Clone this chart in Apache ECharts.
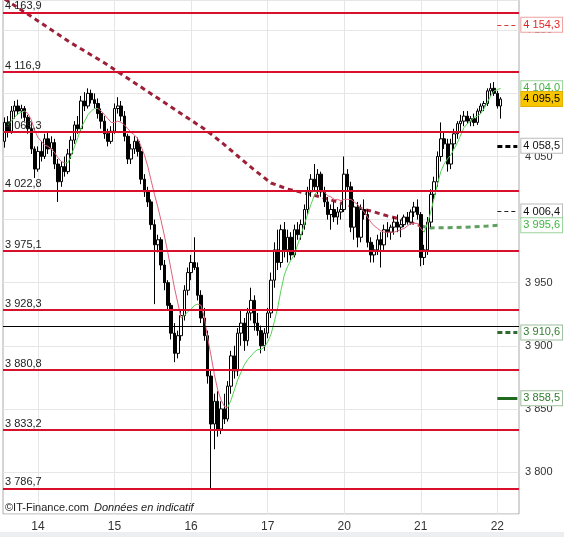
<!DOCTYPE html>
<html><head><meta charset="utf-8">
<script src="https://cdn.jsdelivr.net/npm/echarts@6/dist/echarts.min.js"></script>
<style>html,body{margin:0;padding:0;background:#fff}#c{width:564px;height:537px}</style>
</head><body><div id="c"></div>
<script>
// ---- data ----
const dayLabels = ['13','14','15','16','17','20','21','22'];
const candlesPerDay = [10,23,23,23,23,23,23,2];
const emptySlots = 5;

const opens = [4062,4077,4070,4086,4090,4086,4088,4081,4072,4056,
4040,4054,4050,4064,4056,4061,4044,4030,4042,4038,4052,4063,4075,4072,4094,4090,4100,4095,4092,4084,4078,4068,4062,
4070,4088,4090,4082,4066,4048,4056,4062,4054,4032,4022,4014,3996,3980,3984,3964,3950,3932,3910,3894,3908,3924,3944,
3958,3966,3962,3940,3922,3908,3876,3838,3856,3834,3850,3842,3868,3892,3880,3910,3918,3904,3926,3936,3918,3912,3900,
3910,3926,3952,3976,3966,3992,3976,3986,3972,3992,3988,3996,4008,4022,4032,4026,4036,4022,4014,4004,4008,4002,4006,
4008,4036,4026,3994,4010,3986,4008,4004,3982,3972,3976,3984,3980,3992,3990,3994,3998,3994,3996,4002,3998,4006,4010,
4004,3970,3976,3998,4020,4030,4050,4064,4060,4044,4060,4068,4076,4078,4082,4078,4080,4077,4086,4090,4092,4102,4104,
4100,4090];
const highs = [4081,4082,4090,4094,4095,4091,4090,4083,4074,4058,
4058,4062,4068,4070,4066,4064,4048,4046,4050,4056,4066,4078,4082,4098,4101,4104,4103,4100,4096,4088,4082,4072,4074,
4092,4097,4094,4086,4068,4060,4066,4065,4058,4036,4026,4016,4000,3988,3986,3968,3952,3934,3918,3912,3928,3948,3962,
3972,3986,3966,3944,3930,3912,3880,3862,3864,3856,3862,3872,3896,3900,3914,3928,3922,3930,3946,3940,3926,3916,3914,
3930,3958,3982,3992,3996,3998,3992,3990,3996,3998,4000,4012,4026,4036,4044,4040,4038,4026,4018,4012,4014,4010,4012,
4050,4040,4030,4016,4014,4012,4016,4008,3986,3980,3988,3990,3996,3998,3996,4002,4004,4000,4004,4006,4008,4014,4016,
4006,3980,4002,4024,4034,4054,4077,4070,4064,4064,4072,4078,4083,4086,4086,4082,4084,4088,4092,4094,4104,4108,4109,
4102,4097];
const lows = [4057,4065,4068,4080,4083,4080,4078,4068,4052,4033,
4038,4046,4048,4052,4050,4040,4014,4026,4034,4036,4048,4060,4068,4070,4086,4088,4092,4088,4080,4072,4064,4058,4060,
4068,4084,4078,4062,4044,4044,4052,4050,4028,4018,4010,3992,3933,3974,3960,3944,3928,3905,3887,3890,3904,3920,3940,
3952,3960,3936,3918,3904,3870,3787,3818,3828,3830,3838,3840,3862,3874,3876,3900,3896,3900,3920,3912,3908,3894,3896,
3906,3922,3946,3960,3962,3970,3966,3968,3970,3984,3984,3992,4004,4018,4022,4020,4018,4010,4000,3992,3998,3996,4000,
4006,4022,3990,3984,3978,3982,4000,3978,3966,3966,3972,3962,3976,3986,3984,3988,3990,3986,3994,3996,3996,4002,4000,
3963,3964,3972,3994,4016,4026,4046,4056,4038,4040,4056,4064,4070,4074,4076,4074,4074,4075,4084,4086,4090,4098,4098,
4088,4080];
const closes = [4077,4070,4086,4090,4086,4088,4081,4072,4056,4040,
4054,4050,4064,4056,4061,4044,4030,4042,4038,4052,4063,4075,4072,4094,4090,4100,4095,4092,4084,4078,4068,4062,4070,
4088,4090,4082,4066,4048,4056,4062,4054,4032,4022,4014,3996,3980,3984,3964,3950,3932,3910,3894,3908,3924,3944,3958,
3966,3962,3940,3922,3908,3876,3838,3856,3834,3850,3842,3868,3892,3880,3910,3918,3904,3926,3936,3918,3912,3900,3910,
3926,3952,3976,3966,3992,3976,3986,3972,3992,3988,3996,4008,4022,4032,4026,4036,4022,4014,4004,4008,4002,4006,4008,
4036,4026,3994,4010,3986,4008,4004,3982,3972,3976,3984,3980,3992,3990,3994,3998,3994,3996,4002,3998,4006,4010,4004,
3970,3976,3998,4020,4030,4050,4064,4060,4044,4060,4068,4076,4078,4082,4078,4080,4077,4086,4090,4092,4102,4104,4100,
4090,4095.5];

// short moving average, and index ranges where it is drawn green
const maShort = [null,4075,4078,4081,4084,4085,4086,4084,4079,4071,
4065,4062,4059,4058,4056,4053,4049,4046,4045,4045,
4051,4058,4065,4073,4078,4083,4086,4088,4088,4086,
4083,4080,4077,4077,4078,4077,4075,4072,4069,4067,
4064,4058,4051,4042,4031,4020,4010,3999,3987,3974,
3960,3946,3934,3922,3924,3927,3929,3932,3933,3932,
3922,3906,3892,3877,3865,3857,3852,3851,3857,3865,
3873,3879,3885,3889,3892,3895,3897,3897,3899,3903,
3909,3919,3930,3944,3956,3963,3968,3972,3980,3988,
3996,4004,4012,4019,4023,4023,4022,4019,4018,4016,
4016,4015,4016,4016,4016,4014,4012,4009,4006,4002,
3998,3995,3993,3991,3990,3990,3990,3990,3991,3992,
3993,3995,3997,3997,3997,3993,3990,3997,4006,4017,
4028,4038,4044,4048,4051,4056,4061,4067,4073,4076,
4078,4081,4082,4084,4088,4093,4098,4102,4103,4104];
const maShortGreenRanges = [[1,6],[18,28],[53,58],[67,94],[126,149]];

// long moving average (dashed), read at these candle indices
const maLongIdx = [0,5,10,15,20,25,30,35,40,45,50,55,60,65,70,75,80,85,90,95,100,105,110,115,120,125,128,135,140,145,149];
const maLongVal = [4174.8,4166.1,4157.4,4148.6,4139.9,4132.0,4124.1,4115.4,4106.7,4097.9,4089.2,4080.5,4071.8,4061.5,4050.4,4039.3,4029.0,4024.2,4021.1,4017.9,4013.9,4010.0,4006.8,4002.9,3999.7,3994.9,3993.4,3993.7,3994.1,3994.9,3995.6];
const maLongGreenFrom = 125;

// horizontal levels
const levels = [4163.9,4116.9,4069.3,4022.8,3975.1,3928.3,3880.8,3833.2,3786.7];
const refLine = 3915.5;
const pivots = [4154.3,4058.5,4006.4,3910.6,3858.5];
const lastPrice = 4095.5;
const maShortLast = 4104.0;
const maLongLast = 3995.6;

// ---- styles ----
const FONT = "'Liberation Sans', Arial, sans-serif";
const pivotStyles = [
  {line:{color:'#d23a3a',width:1,type:[4,3]}, text:'#e02828', border:'#f2a0a0', bg:'#fff'},
  {line:{color:'#000',width:3,type:[5,3]}, text:'#111', border:'#bbb', bg:'#fff'},
  {line:{color:'#222',width:1,type:[4,3]}, text:'#111', border:'#bbb', bg:'#fff'},
  {line:{color:'#2e6b2e',width:3,type:[5,3]}, text:'#2f7d2f', border:'#9fbf9f', bg:'#fff'},
  {line:{color:'#1f6a1f',width:3,type:'solid'}, text:'#2f7d2f', border:'#9fbf9f', bg:'#fff'}
];

const fmt = (v, d) => {
  const s = v.toFixed(d); const parts = s.split('.');
  const ip = parts[0].replace(/\B(?=(\d{3})+(?!\d))/g, ' ');
  return parts[1] ? ip + ',' + parts[1] : ip;
};

// categories
const categories = []; const dayStart = {};
dayLabels.forEach((d, k) => {
  for (let j = 0; j < candlesPerDay[k]; j++) {
    if (j === 0 && k > 0) dayStart[categories.length] = d;
    categories.push(d + '#' + j);
  }
});
for (let j = 0; j < emptySlots; j++) categories.push('_' + j);
const isDay = (i) => dayStart[i] !== undefined;

const ohlc = opens.map((o, i) => [o, closes[i], lows[i], highs[i]]);

const inGreen = (i) => maShortGreenRanges.some(r => i >= r[0] && i <= r[1]);
const inGreenStrict = (i) => maShortGreenRanges.some(r => i > r[0] && i < r[1]);
const maGreen = maShort.map((v, i) => inGreen(i) ? v : null);
const maRed = maShort.map((v, i) => inGreenStrict(i) ? null : v);

const longRed = [], longGreen = [];
maLongIdx.forEach((x, k) => {
  if (x <= maLongGreenFrom) longRed.push([x, maLongVal[k]]);
  if (x >= maLongGreenFrom) longGreen.push([x, maLongVal[k]]);
});

const lastIdx = opens.length - 2; // first candle of last day
const edgeIdx = categories.length - 1;

const tagLabel = (text, color, border, bg) => ({
  show: true, position: 'end', distance: 4, formatter: text,
  color: color, backgroundColor: bg, borderColor: border, borderWidth: 1,
  padding: [2, 2, 0, 2], fontSize: 11, fontFamily: FONT, lineHeight: 12
});

const pivotLines = pivots.map((v, k) => {
  const st = pivotStyles[k];
  return [{coord: [lastIdx, v], lineStyle: st.line, label: tagLabel(fmt(v, 1), st.text, st.border, st.bg)},
          {coord: [edgeIdx, v]}];
});
const hiddenLine = {color: 'rgba(0,0,0,0)', width: 1};
const tagLines = [
  [{coord: [lastIdx, maShortLast], lineStyle: hiddenLine, label: tagLabel(fmt(maShortLast, 1), '#3fb43f', '#9ad49a', '#fff')}, {coord: [edgeIdx, maShortLast]}],
  [{coord: [lastIdx, maLongLast], lineStyle: hiddenLine, label: tagLabel(fmt(maLongLast, 1), '#3fb43f', '#9ad49a', '#fff')}, {coord: [edgeIdx, maLongLast]}],
  [{coord: [lastIdx, lastPrice], lineStyle: hiddenLine, label: tagLabel(fmt(lastPrice, 1), '#000', '#e0b000', '#f7c600')}, {coord: [edgeIdx, lastPrice]}]
];

const chart = echarts.init(document.getElementById('c'), null, {renderer: 'canvas'});
chart.setOption({
  animation: false,
  backgroundColor: '#fff',
  textStyle: {fontFamily: FONT},
  grid: {left: 3, right: 45, top: 0, bottom: 23, show: true, borderColor: '#aaa', borderWidth: 1, backgroundColor: 'transparent'},
  xAxis: {
    type: 'category', data: categories, boundaryGap: true,
    axisLine: {show: false}, axisTick: {show: false},
    axisLabel: {interval: (i) => isDay(i), formatter: (v, i) => dayStart[i] || '', color: '#333', fontSize: 12, margin: 7, fontFamily: FONT},
    splitLine: {show: true, interval: (i) => isDay(i), alignWithLabel: true, lineStyle: {color: '#e6e6e6', width: 1}}
  },
  yAxis: {
    type: 'value', position: 'right', min: 3766.7, max: 4174.0, minInterval: 50, maxInterval: 50,
    axisLine: {show: false}, axisTick: {show: false},
    axisLabel: {color: '#333', fontSize: 11, margin: 6, fontFamily: FONT, showMinLabel: false, showMaxLabel: false,
      formatter: (v) => (Math.abs(v % 50) < 1e-6 ? fmt(v, 0) : '')},
    splitLine: {show: true, lineStyle: {color: '#e6e6e6', width: 1}}
  },
  series: [
    {
      name: 'levels', type: 'line', data: [], z: 1, silent: true,
      markLine: {
        silent: true, symbol: ['none', 'none'], animation: false,
        lineStyle: {color: '#d8102c', width: 2, type: 'solid'},
        label: {show: true, position: 'insideStartTop', distance: [2, 1], color: '#222', fontSize: 11, fontFamily: FONT},
        data: levels.map(v => ({yAxis: v, label: {formatter: fmt(v, 1)}}))
          .concat([{yAxis: refLine, lineStyle: {color: '#000', width: 1}, label: {show: false}}])
      }
    },
    {
      name: 'maLongRed', type: 'line', data: longRed, z: 2, showSymbol: false, symbol: 'none', silent: true,
      lineStyle: {color: '#9c2037', width: 3, type: [5, 4]}
    },
    {
      name: 'maLongGreen', type: 'line', data: longGreen, z: 2, showSymbol: false, symbol: 'none', silent: true,
      lineStyle: {color: '#5ea05e', width: 3, type: [5, 4]}
    },
    {
      name: 'price', type: 'candlestick', data: ohlc, z: 3, barWidth: 3, silent: true,
      itemStyle: {color: '#ffffff', color0: '#000000', borderColor: '#000000', borderColor0: '#000000', borderWidth: 1}
    },
    {
      name: 'maRed', type: 'line', data: maRed, z: 4, showSymbol: false, symbol: 'none', silent: true, connectNulls: false,
      lineStyle: {color: '#e0607c', width: 1}
    },
    {
      name: 'maGreen', type: 'line', data: maGreen, z: 4, showSymbol: false, symbol: 'none', silent: true, connectNulls: false,
      lineStyle: {color: '#55d455', width: 1}
    },
    {
      name: 'tags', type: 'line', data: [], z: 5, silent: true,
      markLine: {silent: true, symbol: ['none', 'none'], animation: false, data: pivotLines.concat(tagLines)}
    }
  ],
  graphic: [
    {type: 'rect', left: 0, top: 532, z: 0, shape: {width: 564, height: 5}, style: {fill: '#eceef1'}},
    {type: 'text', left: 5, top: 502, z: 10, style: {text: '©IT-Finance.com', fill: '#222', font: '11px ' + FONT}},
    {type: 'text', left: 94, top: 502, z: 10, style: {text: 'Données en indicatif', fill: '#222', font: 'italic 11px ' + FONT}}
  ]
});
</script></body></html>
